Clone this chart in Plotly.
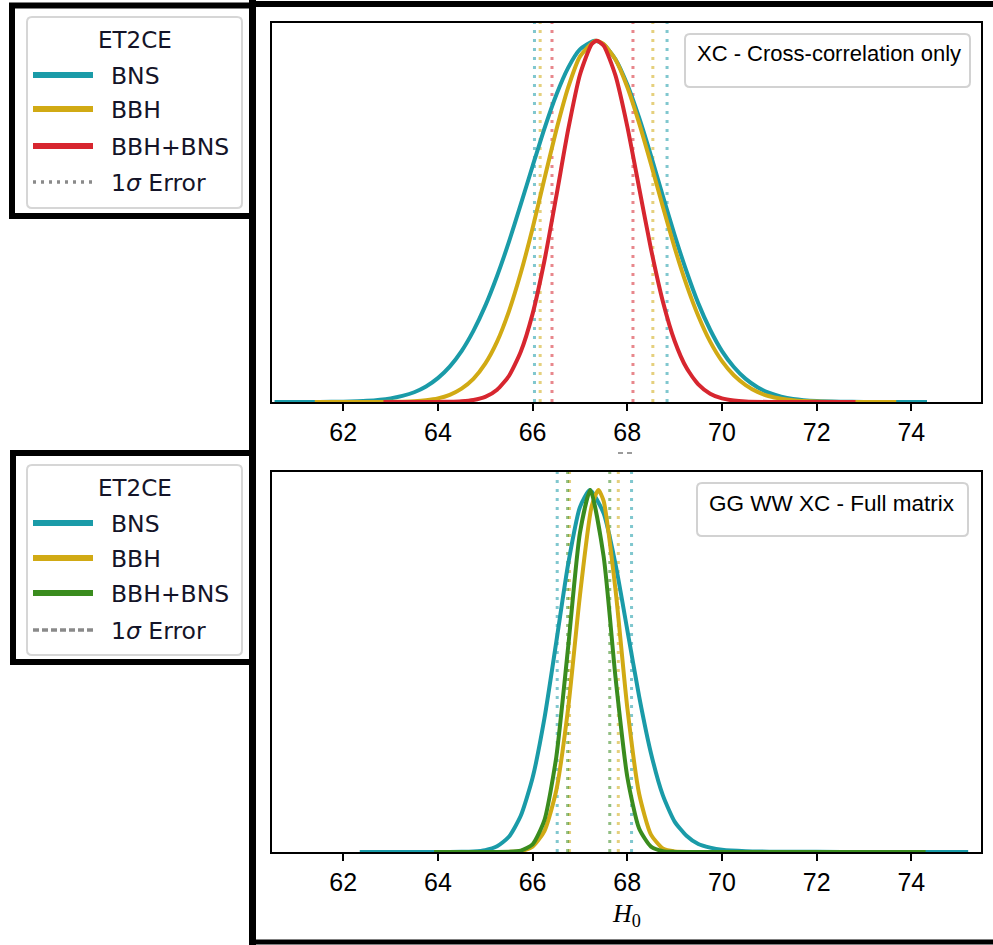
import plotly.graph_objects as go

W, H = 993, 945

# ---------------- data ----------------
series_names = ["BNS", "BBH", "BBH+BNS"]
panel_labels = ["XC - Cross-correlation only", "GG WW XC - Full matrix"]
legend_title = "ET2CE"
error_label = "1<i>σ</i> Error"
x_ticks = [62, 64, 66, 68, 70, 72, 74]

# top panel (XC)
top_bns_x = [60.55, 61.0, 61.5, 62.0, 62.5, 63.0, 63.25, 63.5, 63.75, 64.0, 64.25, 64.5, 64.75,
             65.0, 65.25, 65.5, 65.75, 66.0, 66.25, 66.5, 66.75, 67.0, 67.31, 67.5, 67.75,
             68.0, 68.25, 68.5, 68.75, 69.0, 69.25, 69.5, 69.75, 70.0, 70.25, 70.5, 70.75,
             71.0, 71.25, 71.5, 72.0, 72.5, 73.0, 73.5, 74.33]
top_bns_y = [0, 0, 0.0002, 0.0009, 0.0032, 0.010, 0.0168, 0.027, 0.043, 0.066, 0.098, 0.141, 0.197,
             0.266, 0.349, 0.443, 0.547, 0.653, 0.757, 0.850, 0.925, 0.976, 1.0, 0.990, 0.949,
             0.879, 0.787, 0.682, 0.571, 0.462, 0.362, 0.273, 0.200, 0.141, 0.097, 0.064, 0.041,
             0.025, 0.015, 0.0087, 0.0026, 0.0007, 0.0002, 0, 0]
top_bbh_x = [61.40, 62.0, 62.5, 63.0, 63.25, 63.5, 63.75, 64.0, 64.25, 64.5, 64.75, 65.0, 65.25,
             65.5, 65.75, 66.0, 66.25, 66.5, 66.75, 67.0, 67.33, 67.5, 67.75, 68.0, 68.25,
             68.5, 68.75, 69.0, 69.25, 69.5, 69.75, 70.0, 70.25, 70.5, 70.75, 71.0, 71.25,
             71.5, 72.0, 72.5, 73.0, 73.68]
top_bbh_y = [0, 0, 0.0001, 0.0004, 0.0010, 0.0023, 0.0050, 0.010, 0.0198, 0.037, 0.064, 0.106, 0.167,
             0.251, 0.357, 0.481, 0.618, 0.752, 0.870, 0.956, 1.0, 0.991, 0.948, 0.872, 0.772,
             0.659, 0.541, 0.427, 0.325, 0.238, 0.167, 0.113, 0.074, 0.047, 0.028, 0.016, 0.0092,
             0.005, 0.0013, 0.0003, 0, 0]
top_comb_x = [62.85, 63.5, 64.0, 64.25, 64.5, 64.75, 65.0, 65.25, 65.5, 65.75, 66.0, 66.25, 66.5,
              66.75, 67.0, 67.25, 67.36, 67.5, 67.75, 68.0, 68.25, 68.5, 68.75, 69.0, 69.25,
              69.5, 69.75, 70.0, 70.25, 70.5, 71.0, 71.5, 72.82]
top_comb_y = [0, 0, 0.0002, 0.0006, 0.002, 0.0056, 0.014, 0.034, 0.072, 0.139, 0.244, 0.391, 0.569,
              0.753, 0.906, 0.991, 1.0, 0.987, 0.904, 0.763, 0.593, 0.424, 0.279, 0.169, 0.0945,
              0.049, 0.023, 0.010, 0.0040, 0.0015, 0.0001, 0, 0]
top_err_bns = [66.04, 68.84]
top_err_bbh = [66.16, 68.54]
top_err_comb = [66.41, 68.12]

# bottom panel (full matrix)
bot_bns_x = [62.35, 63.5, 64.0, 64.5, 64.75, 65.0, 65.25, 65.5, 65.75, 66.0, 66.25, 66.5, 66.75,
             67.0, 67.21, 67.5, 67.75, 68.0, 68.25, 68.5, 68.75, 69.0, 69.25, 69.5, 69.75,
             70.0, 70.5, 71.0, 72.0, 73.0, 75.2]
bot_bns_y = [0, 0, 0, 0.0004, 0.0014, 0.005, 0.0157, 0.042, 0.100, 0.205, 0.369, 0.580, 0.795,
             0.953, 1.0, 0.936, 0.796, 0.614, 0.430, 0.273, 0.157, 0.084, 0.045, 0.022, 0.012,
             0.006, 0.002, 0.001, 0.0005, 0, 0]
bot_bbh_x = [64.0, 65.0, 65.5, 65.75, 66.0, 66.25, 66.5, 66.75, 67.0, 67.25, 67.39, 67.5, 67.75,
             68.0, 68.25, 68.5, 68.75, 69.0, 69.5, 70.66]
bot_bbh_y = [0, 0, 0.0003, 0.0023, 0.015, 0.058, 0.170, 0.396, 0.709, 0.957, 1.0, 0.970, 0.726,
             0.399, 0.161, 0.048, 0.010, 0.0017, 0, 0]
bot_comb_x = [63.92, 65.0, 65.5, 65.75, 66.0, 66.25, 66.5, 66.75, 67.0, 67.22, 67.5, 67.75,
              68.0, 68.25, 68.5, 68.75, 69.0, 70.0, 74.3]
bot_comb_y = [0, 0, 0.0005, 0.0038, 0.021, 0.088, 0.262, 0.565, 0.882, 1.0, 0.817, 0.484,
              0.208, 0.065, 0.015, 0.0024, 0.0003, 0, 0]
bot_err_bns = [66.52, 68.09]
bot_err_bbh = [66.78, 67.81]
bot_err_comb = [66.74, 67.63]

# ---------------- styling ----------------
C_BNS = "#1a9ba8"
C_BBH = "#d1aa14"
C_RED = "#d7262f"
C_GRN = "#3a8c1e"

X_RANGE = [60.49, 75.46]
Y_RANGE = [0, 1.05]


def X(v):
    return v / W


def Y(v):
    return 1 - v / H


fig = go.Figure()

panels = [
    ("x", "y", [(top_bns_x, top_bns_y, C_BNS, top_err_bns),
                (top_bbh_x, top_bbh_y, C_BBH, top_err_bbh),
                (top_comb_x, top_comb_y, C_RED, top_err_comb)]),
    ("x2", "y2", [(bot_bns_x, bot_bns_y, C_BNS, bot_err_bns),
                  (bot_bbh_x, bot_bbh_y, C_BBH, bot_err_bbh),
                  (bot_comb_x, bot_comb_y, C_GRN, bot_err_comb)]),
]

shapes = []
for xa, ya, curves in panels:
    for (xs, ys, col, err), name in zip(curves, series_names):
        for v in err:
            shapes.append(dict(type="line", xref=xa, yref=ya + " domain", x0=v, x1=v, y0=0, y1=1,
                               line=dict(color=col, width=3, dash="3px,6px"), opacity=0.55,
                               layer="below"))
    for (xs, ys, col, err), name in zip(curves, series_names):
        fig.add_trace(go.Scatter(x=xs, y=ys, mode="lines", name=name, xaxis=xa, yaxis=ya,
                                 line=dict(color=col, width=4, shape="spline", smoothing=0.6),
                                 hoverinfo="skip", showlegend=False))

axis_common = dict(showline=True, linecolor="black", linewidth=1.8, mirror=True,
                   showgrid=False, zeroline=False)
xaxis_common = dict(axis_common, range=X_RANGE, tickvals=x_ticks, ticks="outside", ticklen=7,
                    tickwidth=1.6, tickcolor="black",
                    tickfont=dict(family="Liberation Sans", size=25, color="black"))
yaxis_common = dict(axis_common, range=Y_RANGE, showticklabels=False, ticks="")

ax_left, ax_right = X(271.7), X(980.5)

fig.update_layout(
    width=W, height=H, autosize=False,
    margin=dict(l=0, r=0, t=0, b=0, pad=0),
    paper_bgcolor="white", plot_bgcolor="white",
    showlegend=False,
    xaxis=dict(xaxis_common, domain=[ax_left, ax_right], anchor="y"),
    yaxis=dict(yaxis_common, domain=[Y(402), Y(22.7)], anchor="x"),
    xaxis2=dict(xaxis_common, domain=[ax_left, ax_right], anchor="y2"),
    yaxis2=dict(yaxis_common, domain=[Y(852), Y(472)], anchor="x2"),
)


def rrect(x0, y0, x1, y1, r):
    return (f"M {X(x0 + r)},{Y(y0)} L {X(x1 - r)},{Y(y0)} Q {X(x1)},{Y(y0)} {X(x1)},{Y(y0 + r)} "
            f"L {X(x1)},{Y(y1 - r)} Q {X(x1)},{Y(y1)} {X(x1 - r)},{Y(y1)} L {X(x0 + r)},{Y(y1)} "
            f"Q {X(x0)},{Y(y1)} {X(x0)},{Y(y1 - r)} L {X(x0)},{Y(y0 + r)} Q {X(x0)},{Y(y0)} {X(x0 + r)},{Y(y0)} Z")


def pline(x0, y0, x1, y1, color, width, dash="solid"):
    return dict(type="line", xref="paper", yref="paper", x0=X(x0), x1=X(x1), y0=Y(y0), y1=Y(y1),
                line=dict(color=color, width=width, dash=dash))


annotations = []

# panel label boxes
for (bx0, by0, bx1, by1, tx, ty, txt, fs) in [
    (685, 34, 970, 87, 695, 53.5, panel_labels[0], 22),
    (697, 483, 968, 536, 707, 503.5, panel_labels[1], 22.5),
]:
    shapes.append(dict(type="path", xref="paper", yref="paper", path=rrect(bx0, by0, bx1, by1, 5),
                       line=dict(color="#d2d2d2", width=2), fillcolor="white"))
    annotations.append(dict(xref="paper", yref="paper", x=X(tx), y=Y(ty), text=txt, showarrow=False,
                            xanchor="left", yanchor="middle",
                            font=dict(family="Liberation Sans", size=fs, color="black")))

# x-axis title of bottom panel
annotations.append(dict(xref="paper", yref="paper", x=(ax_left + ax_right) / 2, y=Y(915),
                        text="<i>H</i><sub>0</sub>", showarrow=False, xanchor="center", yanchor="middle",
                        font=dict(family="Liberation Serif", size=26, color="black")))

# top of the (mostly hidden) x-axis title of the upper panel
shapes.append(pline(618, 453, 623, 453, "#7a7a7a", 1.5))
shapes.append(pline(627, 453, 632, 453, "#7a7a7a", 1.5))

# legends (left side)
legend_specs = [
    (12, 5.5, 216, 17, 208, 40, [75, 109, 146, 182], [C_BNS, C_BBH, C_RED], "3px,5px"),
    (13, 453, 662, 465, 655, 488, [523, 558, 593, 630], [C_BNS, C_BBH, C_GRN], "6px,3px"),
]
for (ox0, oy0, oy1, iy0, iy1, ty, rows, cols, errdash) in legend_specs:
    shapes.append(dict(type="path", xref="paper", yref="paper", path=rrect(27, iy0, 242, iy1, 5),
                       line=dict(color="#d6d6d6", width=2), fillcolor="white"))
    annotations.append(dict(xref="paper", yref="paper", x=X(135), y=Y(ty), text=legend_title,
                            showarrow=False, xanchor="center", yanchor="middle",
                            font=dict(family="DejaVu Sans", size=23, color="#141428")))
    labels = series_names + [error_label]
    for i, (ry, lab) in enumerate(zip(rows, labels)):
        if i < 3:
            shapes.append(pline(33, ry, 93, ry, cols[i], 6))
        else:
            shapes.append(pline(33, ry, 93, ry, "#8a8a8a", 3.5, errdash))
        annotations.append(dict(xref="paper", yref="paper", x=X(109), y=Y(ry + 1), text=lab,
                                showarrow=False, xanchor="left", yanchor="middle",
                                font=dict(family="DejaVu Sans", size=23.5, color="#141428")))
    # thick black frame around legend
    shapes.append(dict(type="rect", xref="paper", yref="paper", x0=X(ox0), x1=X(252.5),
                       y0=Y(oy1), y1=Y(oy0), line=dict(color="black", width=6)))

# heavy black frame lines
shapes.append(pline(252.5, 0, 252.5, 945, "black", 7))
shapes.append(pline(249, 4, 993, 4, "black", 6))
shapes.append(pline(249, 942, 993, 942, "black", 5))

fig.update_layout(shapes=shapes, annotations=annotations)

fig.write_html("out.html")
